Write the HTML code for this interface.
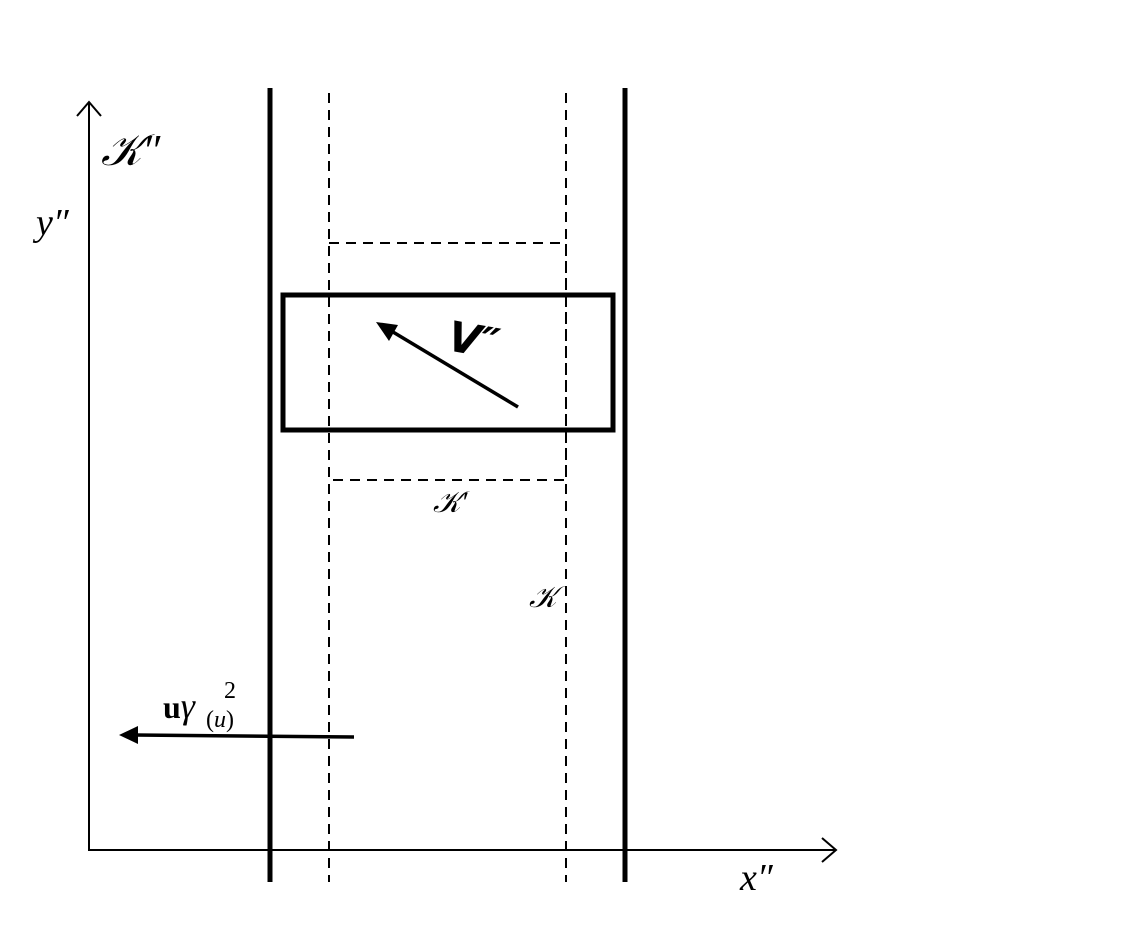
<!DOCTYPE html>
<html><head><meta charset="utf-8"><style>html,body{margin:0;padding:0;background:#fff}svg{display:block}</style></head>
<body>
<svg width="1123" height="946" viewBox="0 0 1123 946" xmlns="http://www.w3.org/2000/svg">
<g stroke="#000" fill="none">
<line x1="89" y1="850" x2="89" y2="102" stroke-width="2"/>
<polyline points="77,116 89,102 101,116" stroke-width="2"/>
<line x1="88" y1="850" x2="836" y2="850" stroke-width="2"/>
<polyline points="822,838 836,850 822,862" stroke-width="2"/>
<line x1="270" y1="88" x2="270" y2="882" stroke-width="5"/>
<line x1="625" y1="88" x2="625" y2="882" stroke-width="5"/>
<line x1="329" y1="93" x2="329" y2="882" stroke-width="2" stroke-dasharray="10,7"/>
<line x1="566" y1="93" x2="566" y2="882" stroke-width="2" stroke-dasharray="10,7"/>
<rect x="329" y="243" width="237" height="237" stroke-width="2" stroke-dasharray="10,7"/>
<rect x="283" y="295" width="330" height="135" stroke-width="5"/>
<line x1="518" y1="407" x2="388" y2="329" stroke-width="3.5"/>
<line x1="354" y1="737" x2="135" y2="735" stroke-width="3.5"/>
</g>
<polygon points="376,322 398,325 389,341" fill="#000"/>
<polygon points="119,735 138,726 138,744" fill="#000"/>
<g font-family="Liberation Serif, DejaVu Serif, serif" fill="#000">
<text x="101" y="165" font-size="44" font-style="italic">𝒦″</text>
<text x="36" y="235" font-size="38" font-style="italic">y″</text>
<text x="740" y="890" font-size="38" font-style="italic">x″</text>
<text x="433" y="512" font-size="30" font-style="italic">𝒦′</text>
<text x="529" y="607" font-size="30" font-style="italic">𝒦</text>
<text x="448" y="354" font-size="42" font-weight="bold" font-style="italic" font-family="DejaVu Sans, sans-serif" transform="rotate(10 470 340)">V″</text>
<text x="163" y="718" font-size="32" font-weight="bold">u<tspan font-weight="normal" font-style="italic" font-size="36">γ</tspan></text>
<text x="224" y="698" font-size="24">2</text>
<text x="206" y="727" font-size="24">(<tspan font-style="italic">u</tspan>)</text>
</g>
</svg>
</body></html>
